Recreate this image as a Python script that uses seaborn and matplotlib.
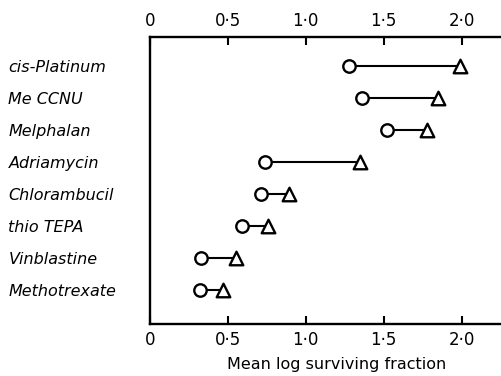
import matplotlib
matplotlib.use("Agg")
import matplotlib.pyplot as plt
import seaborn as sns
import pandas as pd

drugs = ["cis-Platinum", "Me CCNU", "Melphalan", "Adriamycin",
         "Chlorambucil", "thio TEPA", "Vinblastine", "Methotrexate"]
circle_vals = [1.28, 1.36, 1.52, 0.74, 0.71, 0.59, 0.33, 0.32]
triangle_vals = [1.99, 1.85, 1.78, 1.35, 0.89, 0.76, 0.55, 0.47]
tick_vals = [0, 0.5, 1.0, 1.5, 2.0]
tick_labels = ["0", "0·5", "1·0", "1·5", "2·0"]

sns.set_theme(style="white")
plt.rcParams['font.family'] = ['DejaVu Sans']
plt.rcParams['text.color'] = 'black'
plt.rcParams['axes.labelcolor'] = 'black'
plt.rcParams['xtick.color'] = 'black'
plt.rcParams['ytick.color'] = 'black'

df = pd.DataFrame({"drug": drugs, "circle": circle_vals, "triangle": triangle_vals})
df["pos"] = range(len(drugs))

fig = plt.figure(figsize=(5.02, 3.76), dpi=100)
ax = fig.add_axes([0.299, 0.138, 0.701, 0.764])

ax.hlines(df["pos"], df["circle"], df["triangle"], color="black", lw=1.5, zorder=1)
sns.scatterplot(data=df, x="circle", y="pos", marker="o", s=80,
                facecolor="white", edgecolor="black", linewidth=1.7, ax=ax, zorder=3)
sns.scatterplot(data=df, x="triangle", y="pos", marker="^", s=95,
                facecolor="white", edgecolor="black", linewidth=1.7, ax=ax, zorder=3)

ax.set_xlim(0, 2.26)
ax.set_ylim(len(drugs) - 1 + 1.06, -0.9)

ax.set_xticks(tick_vals)
ax.set_xticklabels(tick_labels, fontsize=12)
ax.tick_params(axis="x", which="both", direction="in", length=6, width=1.5,
               top=True, bottom=True, labeltop=True, labelbottom=True,
               color="black", labelcolor="black", pad=5)

ax.set_yticks(df["pos"])
ax.set_yticklabels(drugs, fontsize=11.5, style="italic", color="black")
ax.tick_params(axis="y", length=0, pad=102)
for lbl in ax.get_yticklabels():
    lbl.set_horizontalalignment("left")

for side in ["left", "top", "bottom"]:
    ax.spines[side].set_visible(True)
    ax.spines[side].set_color("black")
    ax.spines[side].set_linewidth(1.7)
ax.spines["right"].set_visible(False)

ax.set_xlabel("Mean log surviving fraction", fontsize=11.5, color="black")
ax.xaxis.set_label_coords(0.53, -0.115)
ax.set_ylabel("")

fig.savefig("out.png", dpi=100)
